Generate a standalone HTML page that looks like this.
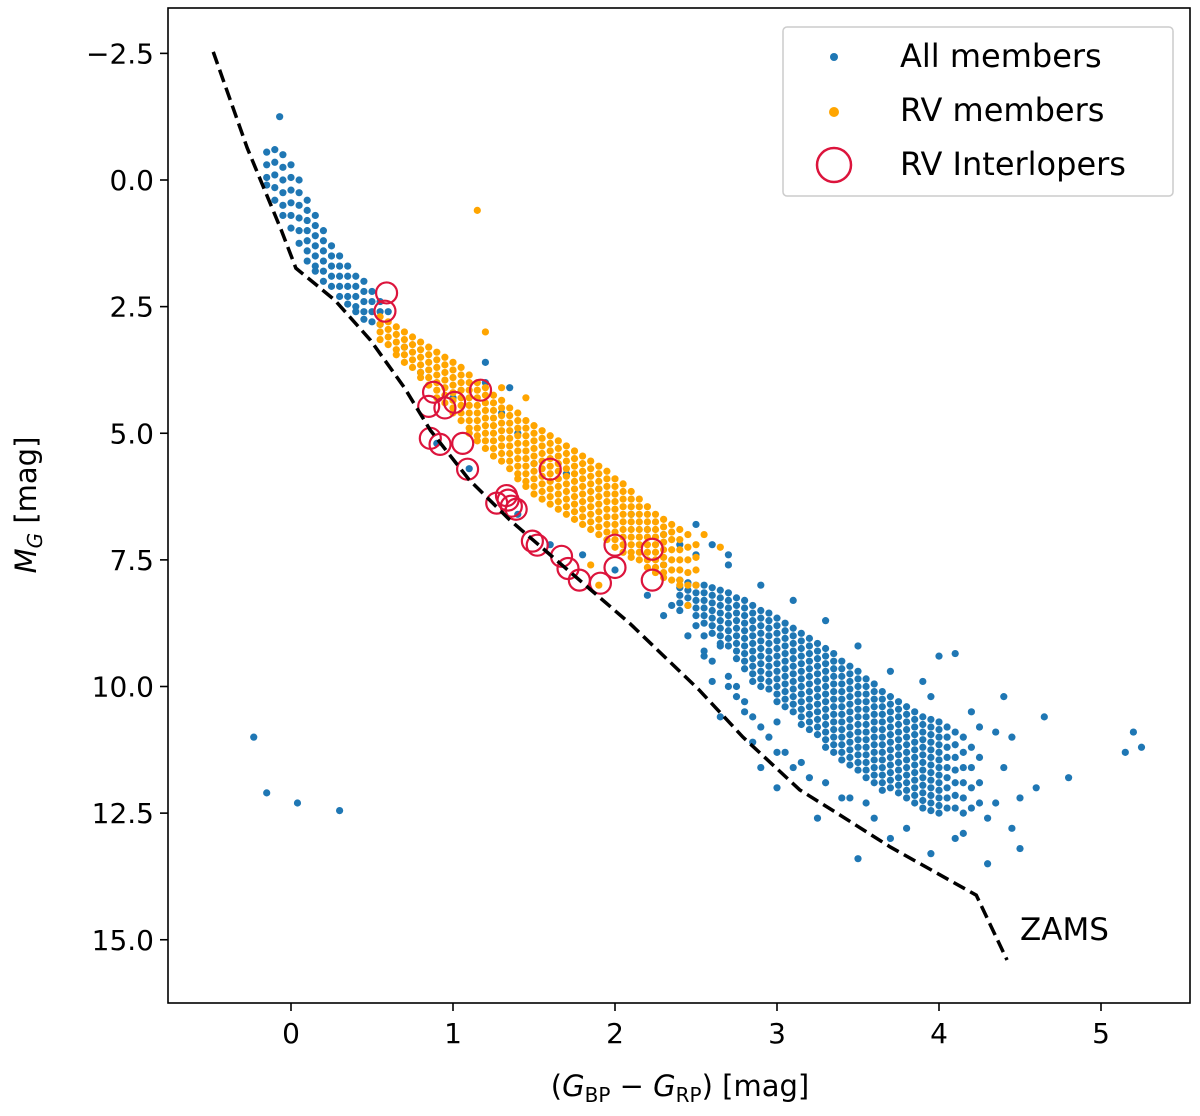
<!DOCTYPE html>
<html><head><meta charset="utf-8">
<style>
html,body{margin:0;padding:0;background:#fff;}
svg{display:block;font-family:"DejaVu Sans","Liberation Sans",sans-serif;}
</style></head>
<body>
<svg id="chart" width="1200" height="1116" viewBox="0 0 1200 1116" xmlns="http://www.w3.org/2000/svg">
<g id="marks"></g>
<g id="axes"></g>
</svg>
<script>
const xTicks=[0,1,2,3,4,5];
const xTickLabels=["0","1","2","3","4","5"];
const yTicks=[-2.5,0,2.5,5,7.5,10,12.5,15];
const yTickLabels=["\u22122.5","0.0","2.5","5.0","7.5","10.0","12.5","15.0"];
const zamsC=[-0.48,-0.27,-0.06,0.03,0.27,0.49,0.70,0.86,1.10,1.35,1.85,2.09,2.52,2.79,3.14,3.37,3.70,4.23,4.42];
const zamsM=[-2.53,-0.63,0.99,1.74,2.37,3.16,4.1,4.94,5.92,6.71,8.09,8.75,10.07,11.0,12.04,12.5,13.17,14.12,15.4];
const blueX=[-0.07,0.6,0.7,0.8,1.0,1.2,1.3,1.4,1.5,1.7,1.9,2.1,2.3,2.4,2.5,2.2,0.9,1.1,1.4,1.8,2.0,2.3,1.6,2.6,2.7,2.5,1.2,1.35,
4.45,4.6,4.65,4.8,5.15,5.25,5.2,4.45,4.0,4.1,3.5,3.25,3.0,2.9,4.3,-0.23,-0.15,0.04,0.3,4.4,4.5,2.7,2.8,3.7,3.95,2.55,2.4,4.35,3.9,4.25,
2.6,2.7,2.8,2.9,3.0,3.1,2.75,3.2,3.4,3.6,3.8,4.1,4.3,4.4,4.35,4.2,3.95,3.7,3.5,3.3,3.1,2.9,2.7,4.5,4.15,3.55,2.55,2.65,2.85,
2.3,2.45,2.55,2.6,2.75,2.85,2.95,3.05,3.0,2.65,2.5,2.85,3.15,3.3,3.45,2.35,2.2];
const blueY=[-1.25,2.6,3.3,3.8,4.3,4.0,4.6,5.0,5.6,5.8,6.1,6.6,7.0,7.2,7.4,6.9,5.2,5.7,6.6,7.4,7.7,7.6,7.2,7.2,7.4,6.8,3.6,4.1,
11.0,12.0,10.6,11.8,11.3,11.2,10.9,12.8,9.4,9.35,13.4,12.6,12.0,11.6,13.5,11.0,12.1,12.3,12.45,10.2,13.2,10.0,10.5,13.0,13.3,9.3,8.5,12.3,9.9,10.8,
9.5,9.8,10.3,10.8,11.3,11.6,10.0,11.8,12.2,12.6,12.8,13.0,12.6,11.6,10.9,10.5,10.2,9.7,9.2,8.7,8.3,8.0,7.6,12.2,12.9,12.3,9.0,10.6,11.1,
8.6,9.0,9.4,9.9,10.2,10.6,11.0,11.3,10.7,9.2,8.8,9.9,11.5,11.9,12.2,8.4,8.2];
const upperC=[-0.15,-0.10,-0.05,0.00,0.05,0.10,0.15,0.20,0.25,0.30,0.35,0.40,0.45,0.50,0.55];
const upperM=[[-0.55,-0.3,-0.05,0.1],[-0.6,-0.35,-0.1,0.15,0.4],[-0.5,-0.25,0.0,0.25,0.5,0.7],[-0.3,-0.05,0.2,0.45,0.7,0.95],[0.0,0.25,0.5,0.75,1.0,1.25],[0.4,0.6,0.8,1.0,1.2,1.4,1.6],[0.7,0.9,1.1,1.3,1.5,1.7,1.8],[1.0,1.2,1.4,1.6,1.8,2.0],[1.3,1.5,1.7,1.9,2.1],[1.5,1.7,1.9,2.1,2.3],[1.7,1.9,2.1,2.3,2.45],[1.9,2.1,2.3,2.5,2.6],[2.0,2.2,2.4,2.6,2.75],[2.2,2.4,2.6,2.8],[2.4,2.6,2.85]];
const blobC=[2.40,2.45,2.50,2.55,2.60,2.65,2.70,2.75,2.80,2.85,2.90,2.95,3.00,3.05,3.10,3.15,3.20,3.25,3.30,3.35,3.40,3.45,3.50,3.55,3.60,3.65,3.70,3.75,3.80,3.85,3.90,3.95,4.00,4.05,4.10,4.15,4.20,4.25];
const blobM=[
[7.9,8.05,8.2,8.35],
[7.95,8.1,8.25,8.4],
[8.0,8.15,8.3,8.45,8.6],
[8.0,8.15,8.3,8.45,8.6,8.75],
[8.05,8.2,8.35,8.5,8.65,8.8,8.95],
[8.1,8.25,8.4,8.55,8.7,8.85,9.0,9.15],
[8.15,8.3,8.45,8.6,8.75,8.9,9.05,9.2],
[8.25,8.4,8.55,8.7,8.85,9.0,9.15,9.3,9.45],
[8.3,8.45,8.6,8.75,8.9,9.05,9.2,9.35,9.5,9.65],
[8.4,8.55,8.7,8.85,9.0,9.15,9.3,9.45,9.6,9.75],
[8.5,8.65,8.8,8.95,9.1,9.25,9.4,9.55,9.7,9.85,10.0],
[8.55,8.7,8.85,9.0,9.15,9.3,9.45,9.6,9.75,9.9,10.05],
[8.65,8.8,8.95,9.1,9.25,9.4,9.55,9.7,9.85,10.0,10.15,10.3],
[8.75,8.9,9.05,9.2,9.35,9.5,9.65,9.8,9.95,10.1,10.25,10.4],
[8.85,9.0,9.15,9.3,9.45,9.6,9.75,9.9,10.05,10.2,10.35,10.5],
[8.95,9.1,9.25,9.4,9.55,9.7,9.85,10.0,10.15,10.3,10.45,10.6,10.75],
[9.05,9.2,9.35,9.5,9.65,9.8,9.95,10.1,10.25,10.4,10.55,10.7,10.85],
[9.15,9.3,9.45,9.6,9.75,9.9,10.05,10.2,10.35,10.5,10.65,10.8,10.95],
[9.25,9.4,9.55,9.7,9.85,10.0,10.15,10.3,10.45,10.6,10.75,10.9,11.05,11.2],
[9.35,9.5,9.65,9.8,9.95,10.1,10.25,10.4,10.55,10.7,10.85,11.0,11.15,11.3],
[9.5,9.65,9.8,9.95,10.1,10.25,10.4,10.55,10.7,10.85,11.0,11.15,11.3,11.45],
[9.6,9.75,9.9,10.05,10.2,10.35,10.5,10.65,10.8,10.95,11.1,11.25,11.4,11.55],
[9.7,9.85,10.0,10.15,10.3,10.45,10.6,10.75,10.9,11.05,11.2,11.35,11.5,11.65],
[9.85,10.0,10.15,10.3,10.45,10.6,10.75,10.9,11.05,11.2,11.35,11.5,11.65,11.8],
[9.95,10.1,10.25,10.4,10.55,10.7,10.85,11.0,11.15,11.3,11.45,11.6,11.75,11.9],
[10.1,10.25,10.4,10.55,10.7,10.85,11.0,11.15,11.3,11.45,11.6,11.75,11.9,12.05],
[10.2,10.35,10.5,10.65,10.8,10.95,11.1,11.25,11.4,11.55,11.7,11.85,12.0],
[10.3,10.45,10.6,10.75,10.9,11.05,11.2,11.35,11.5,11.65,11.8,11.95,12.1],
[10.4,10.55,10.7,10.85,11.0,11.15,11.3,11.45,11.6,11.75,11.9,12.05,12.2],
[10.5,10.65,10.8,10.95,11.1,11.25,11.4,11.55,11.7,11.85,12.0,12.15,12.3],
[10.6,10.75,10.9,11.05,11.2,11.35,11.5,11.65,11.8,11.95,12.1,12.25,12.4],
[10.65,10.8,10.95,11.1,11.25,11.4,11.55,11.7,11.85,12.0,12.15,12.3,12.45],
[10.7,10.85,11.0,11.15,11.3,11.45,11.6,11.75,11.9,12.05,12.2,12.35,12.5],
[10.8,11.0,11.2,11.4,11.6,11.8,12.0,12.2,12.4],
[10.9,11.15,11.4,11.65,11.9,12.15,12.4],
[11.0,11.3,11.6,11.9,12.2,12.5],
[11.2,11.6,12.0,12.4],
[11.4,11.9,12.3]];
const orangeC=[0.55,0.60,0.65,0.70,0.75,0.80,0.85,0.90,0.95,1.00,1.05,1.10,1.15,1.20,1.25,1.30,1.35,1.40,1.45,1.50,1.55,1.60,1.65,1.70,1.75,1.80,1.85,1.90,1.95,2.00,2.05,2.10,2.15,2.20,2.25,2.30,2.35,2.40,2.45,2.50];
const orangeM=[
[2.7,2.85,3.0,3.15],
[2.8,2.95,3.1,3.25],
[2.9,3.05,3.2,3.35,3.45],
[3.0,3.15,3.3,3.45,3.6],
[3.1,3.25,3.4,3.55,3.7],
[3.2,3.35,3.5,3.65,3.8,3.9],
[3.3,3.45,3.6,3.75,3.9,4.05],
[3.4,3.55,3.7,3.85,4.0,4.15,4.3],
[3.5,3.65,3.8,3.95,4.1,4.25,4.4],
[3.6,3.75,3.9,4.05,4.2,4.35,4.5,4.6],
[3.7,3.85,4.0,4.15,4.3,4.45,4.6,4.75],
[3.85,4.0,4.15,4.3,4.45,4.6,4.75,4.9,5.0],
[4.0,4.15,4.3,4.45,4.6,4.75,4.9,5.05,5.15],
[4.1,4.25,4.4,4.55,4.7,4.85,5.0,5.15,5.3],
[4.25,4.4,4.55,4.7,4.85,5.0,5.15,5.3,5.45],
[4.35,4.5,4.65,4.8,4.95,5.1,5.25,5.4,5.55],
[4.5,4.65,4.8,4.95,5.1,5.25,5.4,5.55,5.7],
[4.6,4.75,4.9,5.05,5.2,5.35,5.5,5.65,5.8,5.9],
[4.75,4.9,5.05,5.2,5.35,5.5,5.65,5.8,5.95,6.05],
[4.85,5.0,5.15,5.3,5.45,5.6,5.75,5.9,6.05,6.2],
[4.95,5.1,5.25,5.4,5.55,5.7,5.85,6.0,6.15,6.3],
[5.05,5.2,5.35,5.5,5.65,5.8,5.95,6.1,6.25,6.4],
[5.15,5.3,5.45,5.6,5.75,5.9,6.05,6.2,6.35,6.5],
[5.25,5.4,5.55,5.7,5.85,6.0,6.15,6.3,6.45,6.6],
[5.35,5.5,5.65,5.8,5.95,6.1,6.25,6.4,6.55,6.7],
[5.45,5.6,5.75,5.9,6.05,6.2,6.35,6.5,6.65,6.8],
[5.55,5.7,5.85,6.0,6.15,6.3,6.45,6.6,6.75,6.9],
[5.65,5.8,5.95,6.1,6.25,6.4,6.55,6.7,6.85,7.0],
[5.75,5.9,6.05,6.2,6.35,6.5,6.65,6.8,6.95,7.1],
[5.9,6.05,6.2,6.35,6.5,6.65,6.8,6.95,7.1,7.25],
[6.0,6.15,6.3,6.45,6.6,6.75,6.9,7.05,7.2,7.35],
[6.15,6.3,6.45,6.6,6.75,6.9,7.05,7.2,7.35,7.45],
[6.3,6.45,6.6,6.75,6.9,7.05,7.2,7.35,7.5],
[6.45,6.6,6.75,6.9,7.05,7.2,7.35,7.5,7.65],
[6.6,6.75,6.9,7.05,7.2,7.35,7.5,7.65,7.75],
[6.7,6.85,7.0,7.15,7.3,7.45,7.6,7.75,7.85],
[6.8,6.95,7.1,7.3,7.5,7.7,7.9],
[6.9,7.1,7.3,7.5,7.7,7.9,8.0],
[7.0,7.25,7.5,7.75,8.0],
[7.2,7.45,7.7,8.0]];
const orangeExtraX=[1.15,1.2,2.45,2.65,1.85,1.9,2.55,1.3,1.45];
const orangeExtraY=[0.6,3.0,8.4,7.25,7.6,8.0,7.0,4.1,4.3];
const interX=[0.59,0.58,0.88,1.17,0.85,0.95,1.01,0.86,0.92,1.06,1.09,1.6,1.27,1.33,1.36,1.39,1.49,1.52,1.67,1.71,1.78,1.91,2.0,2.0,2.23,2.23,1.34];
const interY=[2.23,2.59,4.19,4.15,4.47,4.5,4.39,5.1,5.22,5.2,5.71,5.71,6.38,6.23,6.44,6.5,7.13,7.21,7.43,7.67,7.9,7.96,7.21,7.65,7.29,7.9,6.32];

const NS="http://www.w3.org/2000/svg";
const L=168,R=1190,T=8,B=1003;
const sx=v=>291+162*v;
const sy=v=>180+50.65*v;
const marks=document.getElementById('marks');
const axes=document.getElementById('axes');
function mk(tag,attrs,parent){const e=document.createElementNS(NS,tag);for(const k in attrs)e.setAttribute(k,attrs[k]);parent.appendChild(e);return e;}

function dot(c,m,color,name){
  const e=mk('circle',{cx:sx(c),cy:sy(m),r:3.6,fill:color},marks);
  
  
}
for(let i=0;i<blueX.length;i++)dot(blueX[i],blueY[i],'#1f77b4','all-member-point');
upperC.forEach((c,i)=>upperM[i].forEach(m=>dot(c,m,'#1f77b4','all-member-point')));
blobC.forEach((c,i)=>blobM[i].forEach(m=>dot(c,m,'#1f77b4','all-member-point')));
orangeC.forEach((c,i)=>orangeM[i].forEach(m=>dot(c,m,'#ffa500','rv-member-point')));
for(let i=0;i<orangeExtraX.length;i++)dot(orangeExtraX[i],orangeExtraY[i],'#ffa500','rv-member-point');
for(let i=0;i<interX.length;i++){
  const e=mk('circle',{cx:sx(interX[i]),cy:sy(interY[i]),r:10.5,fill:'none',stroke:'#dc143c','stroke-width':2.2},marks);
  
  
}
const zp=zamsC.map((c,i)=>sx(c)+','+sy(zamsM[i])).join(' ');
const zl=mk('polyline',{points:zp,fill:'none',stroke:'#000','stroke-width':3.5,'stroke-dasharray':'13,6'},marks);


const zt=mk('text',{x:1020,y:940,'font-size':31,fill:'#000'},marks);zt.textContent='ZAMS';



const fr=mk('rect',{x:L,y:T,width:R-L,height:B-T,fill:'none',stroke:'#000','stroke-width':1.6},axes);


xTicks.forEach((v,i)=>{
  const t=mk('line',{x1:sx(v),x2:sx(v),y1:B,y2:B+8,stroke:'#000','stroke-width':1.6},axes);
  
  
  const tx=mk('text',{x:sx(v),y:B+40,'font-size':28,'text-anchor':'middle'},axes);tx.textContent=xTickLabels[i];
  
  
});
yTicks.forEach((v,i)=>{
  const t=mk('line',{x1:L-8,x2:L,y1:sy(v),y2:sy(v),stroke:'#000','stroke-width':1.6},axes);
  
  
  const tx=mk('text',{x:L-14,y:sy(v)+10,'font-size':28,'text-anchor':'end'},axes);tx.textContent=yTickLabels[i];
  
  
});
</script>
<svg style="position:absolute;left:0;top:0" width="1200" height="1116" xmlns="http://www.w3.org/2000/svg" font-family="DejaVu Sans, Liberation Sans, sans-serif">
<text x="680" y="1096" font-size="29" text-anchor="middle">(<tspan font-style="italic">G</tspan><tspan font-size="20" dy="6">BP</tspan><tspan dy="-6"> − </tspan><tspan font-style="italic">G</tspan><tspan font-size="20" dy="6">RP</tspan><tspan dy="-6">) [mag]</tspan></text>
<text transform="translate(36,505) rotate(-90)" font-size="29" text-anchor="middle"><tspan font-style="italic">M</tspan><tspan font-size="20" dy="6" font-style="italic">G</tspan><tspan dy="-6"> [mag]</tspan></text>
<g>
<rect x="783" y="27" width="390" height="169" rx="4" fill="#fff" fill-opacity="0.85" stroke="#ccc" stroke-width="1.5"/>
<circle cx="834" cy="57" r="4" fill="#1f77b4"/>
<text x="900" y="67" font-size="32">All members</text>
<circle cx="834" cy="112" r="5" fill="#ffa500"/>
<text x="900" y="121" font-size="32">RV members</text>
<circle cx="834" cy="165" r="17" fill="none" stroke="#dc143c" stroke-width="2.5"/>
<text x="900" y="175" font-size="32">RV Interlopers</text>
</g>
</svg>
</body></html>
